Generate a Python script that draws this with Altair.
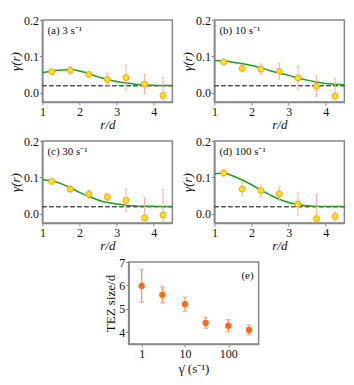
import altair as alt
import pandas as pd

# ---------- data ----------
r_pts = [1.25, 1.75, 2.25, 2.75, 3.25, 3.75, 4.25]
r_fit = [1.0, 1.25, 1.5, 1.75, 2.0, 2.25, 2.5, 2.75, 3.0, 3.25, 3.5, 3.75, 4.0, 4.25, 4.5]

labels = ["(a) 3 s\u207b\u00b9", "(b) 10 s\u207b\u00b9", "(c) 30 s\u207b\u00b9", "(d) 100 s\u207b\u00b9"]

g_a = [0.058, 0.062, 0.051, 0.037, 0.042, 0.024, -0.007]
e_a = [0.004, 0.011, 0.005, 0.016, 0.035, 0.027, 0.049]
f_a = [0.055, 0.060, 0.063, 0.064, 0.060, 0.053, 0.044, 0.037, 0.031, 0.027, 0.024, 0.021, 0.021, 0.020, 0.020]

g_b = [0.085, 0.067, 0.065, 0.059, 0.041, 0.018, -0.009]
e_b = [0.006, 0.010, 0.015, 0.023, 0.033, 0.028, 0.049]
f_b = [0.089, 0.088, 0.084, 0.080, 0.075, 0.069, 0.061, 0.054, 0.048, 0.041, 0.035, 0.030, 0.026, 0.024, 0.022]

g_c = [0.089, 0.068, 0.054, 0.046, 0.037, -0.011, -0.003]
e_c = [0.004, 0.009, 0.012, 0.009, 0.031, 0.056, 0.070]
f_c = [0.094, 0.091, 0.083, 0.072, 0.059, 0.048, 0.038, 0.031, 0.027, 0.024, 0.022, 0.021, 0.021, 0.020, 0.020]

g_d = [0.112, 0.068, 0.064, 0.055, 0.027, -0.013, -0.007]
e_d = [0.009, 0.019, 0.015, 0.019, 0.030, 0.066, 0.013]
f_d = [0.110, 0.112, 0.104, 0.093, 0.080, 0.065, 0.052, 0.040, 0.031, 0.026, 0.022, 0.021, 0.020, 0.020, 0.020]

baseline = 0.02

shear = [1, 3, 10, 30, 100, 300]
tez = [5.98, 5.60, 5.20, 4.40, 4.28, 4.10]
tez_err = [0.70, 0.34, 0.30, 0.23, 0.26, 0.21]
tez_ticks = [4, 5, 6, 7]
shear_ticks = [1, 10, 100]

# ---------- style ----------
FONT = "Liberation Serif"
W, H = 130, 82
PT_FILL = "#ffe600"
PT_STROKE = "#ff9a3c"
ERR_COL = "#f7b39a"
FIT_COL = "#1f9e1f"


def panel(label, g, e, f):
    pts = pd.DataFrame({"r": r_pts, "g": g,
                        "lo": [a - b for a, b in zip(g, e)],
                        "hi": [a + b for a, b in zip(g, e)]})
    fit = pd.DataFrame({"r": r_fit, "g": f})
    xs = alt.Scale(domain=[1, 4.5], nice=False, zero=False)
    ys = alt.Scale(domain=[-0.025, 0.2], nice=False, zero=False)
    xax = alt.Axis(values=[1, 2, 3, 4], title="r/d", titleFontStyle="italic",
                   labelFlush=False, labelOverlap=False, grid=False, format="d")
    yax = alt.Axis(values=[0, 0.1, 0.2], title="\u03b3(r)", titleFontStyle="italic",
                   labelFlush=False, labelOverlap=False, grid=False, format=".1f")
    base = alt.Chart(pts)
    dash = alt.Chart(pts).mark_rule(color="#555", strokeDash=[4, 3], strokeWidth=1).encode(
        y=alt.datum(baseline, scale=ys))
    line = alt.Chart(fit).mark_line(color=FIT_COL, strokeWidth=1.5, interpolate="monotone", clip=True).encode(
        x=alt.X("r:Q", scale=xs, axis=xax), y=alt.Y("g:Q", scale=ys, axis=yax))
    err = base.mark_rule(color=ERR_COL, strokeWidth=1, clip=True).encode(
        x=alt.X("r:Q", axis=xax), y=alt.Y("lo:Q", axis=yax), y2="hi:Q")
    cap_lo = base.mark_tick(color=ERR_COL, orient="horizontal", size=3, thickness=1, clip=True).encode(
        x=alt.X("r:Q", axis=xax), y=alt.Y("lo:Q", axis=yax))
    cap_hi = base.mark_tick(color=ERR_COL, orient="horizontal", size=3, thickness=1, clip=True).encode(
        x=alt.X("r:Q", axis=xax), y=alt.Y("hi:Q", axis=yax))
    dots = base.mark_point(filled=True, fill=PT_FILL, stroke=PT_STROKE, strokeWidth=1,
                           size=36, opacity=1, clip=True).encode(
        x=alt.X("r:Q", axis=xax), y=alt.Y("g:Q", axis=yax))
    txt = alt.Chart(pd.DataFrame({"t": [label]})).mark_text(
        font=FONT, fontSize=11, align="left", baseline="top", color="#111").encode(
        x=alt.value(5), y=alt.value(5), text="t:N")
    return alt.layer(dash, line, err, cap_lo, cap_hi, dots, txt).properties(width=W, height=H)


pa = panel(labels[0], g_a, e_a, f_a)
pb = panel(labels[1], g_b, e_b, f_b)
pc = panel(labels[2], g_c, e_c, f_c)
pd_ = panel(labels[3], g_d, e_d, f_d)

edf = pd.DataFrame({"s": shear, "t": tez,
                    "lo": [a - b for a, b in zip(tez, tez_err)],
                    "hi": [a + b for a, b in zip(tez, tez_err)]})
exs = alt.Scale(type="log", domain=[0.5, 500], nice=False)
eys = alt.Scale(domain=[3.5, 7], nice=False, zero=False)
exax = alt.Axis(values=shear_ticks, format="d", title="\u03b3\u0307 (s\u207b\u00b9)",
                labelFlush=False, labelOverlap=False, grid=False, titlePadding=3)
eyax = alt.Axis(values=tez_ticks, format="d", title="TEZ size/d", tickCount=4,
                labelFlush=False, labelOverlap=False, grid=False)
ebase = alt.Chart(edf)
E_COL = "#ff6a13"
E_ERR = "#ff8f5e"
e_err = ebase.mark_rule(color=E_ERR, strokeWidth=1.2).encode(
    x=alt.X("s:Q", scale=exs, axis=exax),
    y=alt.Y("lo:Q", scale=eys, axis=eyax),
    y2="hi:Q")
e_cl = ebase.mark_tick(color=E_ERR, orient="horizontal", size=5, thickness=1.2).encode(
    x=alt.X("s:Q", axis=exax), y=alt.Y("lo:Q", axis=eyax))
e_ch = ebase.mark_tick(color=E_ERR, orient="horizontal", size=5, thickness=1.2).encode(
    x=alt.X("s:Q", axis=exax), y=alt.Y("hi:Q", axis=eyax))
e_pt = ebase.mark_point(filled=True, color=E_COL, size=40, opacity=1).encode(
    x=alt.X("s:Q", axis=exax), y=alt.Y("t:Q", axis=eyax))
e_txt = alt.Chart(pd.DataFrame({"t": ["(e)"]})).mark_text(
    font=FONT, fontSize=11, align="right", baseline="top", color="#111").encode(
    x=alt.value(W - 5), y=alt.value(8), text="t:N")
pe = alt.layer(e_err, e_cl, e_ch, e_pt, e_txt).properties(width=W, height=H)

row1 = alt.hconcat(pa, pb, spacing=6)
row2 = alt.hconcat(pc, pd_, spacing=6)

chart = alt.vconcat(row1, row2, pe, spacing=2, center=True).properties(
    padding={"left": 0, "top": 5, "right": 0, "bottom": 0}
).configure_view(
    stroke="#888", strokeWidth=1.5
).configure_axis(
    labelFont=FONT, titleFont=FONT, labelFontSize=12, titleFontSize=13,
    labelColor="#111", titleColor="#111", titleFontWeight="normal",
    domainColor="#888", domainWidth=1.5, tickColor="#888", tickSize=3,
    labelPadding=1, titlePadding=1
)

chart.save("out.html", embed_options={"renderer": "svg", "actions": False})
